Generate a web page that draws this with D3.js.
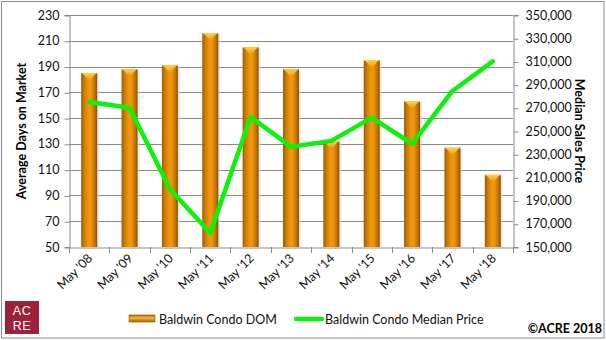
<!DOCTYPE html>
<html><head><meta charset="utf-8">
<script src="https://cdn.jsdelivr.net/npm/d3@7"></script>
<style>
body{margin:0;background:#fff;}
svg{display:block;font-family:Lato,"Open Sans",sans-serif;}
</style></head>
<body><svg id="c" width="606" height="340"></svg>
<script>
const categories = ["May '08","May '09","May '10","May '11","May '12","May '13","May '14","May '15","May '16","May '17","May '18"];
const domValues = [185,188,191,216,205,188,132,195,163,127,106];
const priceValues = [275000,270000,200000,162000,262000,236500,241500,261500,239000,284500,310000];
const leftTicks = [50,70,90,110,130,150,170,190,210,230];
const rightTicks = [150000,170000,190000,210000,230000,250000,270000,290000,310000,330000,350000];
const seriesNames = ["Baldwin Condo DOM","Baldwin Condo Median Price"];

const svg = d3.select("#c");
const m = {l:69, r:513, t:15, b:247};
const x = d3.scaleBand().domain(categories).range([m.l, m.r]);
const yL = d3.scaleLinear().domain([50,230]).range([m.b, m.t]);
const yR = d3.scaleLinear().domain([150000,350000]).range([m.b, m.t]);

const defs = svg.append("defs");
const g = defs.append("linearGradient").attr("id","barg").attr("x1","0").attr("x2","1").attr("y1","0").attr("y2","0");
[[0,"#9a5a00"],[0.18,"#c97b05"],[0.45,"#f0960c"],[0.6,"#f09510"],[0.85,"#c07204"],[1,"#8a5000"]].forEach(s=>g.append("stop").attr("offset",s[0]).attr("stop-color",s[1]));
const gc = defs.append("linearGradient").attr("id","capg").attr("x1","0").attr("x2","0").attr("y1","0").attr("y2","1");
[[0,"#ffd24a"],[1,"#f0a020"]].forEach(s=>gc.append("stop").attr("offset",s[0]).attr("stop-color",s[1]));
const lg = defs.append("linearGradient").attr("id","legg").attr("x1","0").attr("x2","0").attr("y1","0").attr("y2","1");
[[0,"#a86a00"],[0.4,"#f5b830"],[1,"#a86400"]].forEach(s=>lg.append("stop").attr("offset",s[0]).attr("stop-color",s[1]));

// border
svg.append("rect").attr("x",1.5).attr("y",1.5).attr("width",602.5).attr("height",336.5).attr("fill","none").attr("stroke","#8c8c8c").attr("stroke-width",1);

// gridlines
svg.append("g").selectAll("line").data(leftTicks.slice(1)).join("line")
  .attr("x1",m.l).attr("x2",m.r).attr("y1",d=>Math.round(yL(d))+0.5).attr("y2",d=>Math.round(yL(d))+0.5)
  .attr("stroke","#8a8a8a").attr("stroke-width",1);

// axes
const fs = "12.5px";
const la = svg.append("g").attr("transform",`translate(${m.l+0.5},0)`).call(d3.axisLeft(yL).tickValues(leftTicks).tickSize(5).tickPadding(5).tickFormat(d3.format("d")));
const ra = svg.append("g").attr("transform",`translate(${m.r+0.5},0)`).call(d3.axisRight(yR).tickValues(rightTicks).tickSize(5).tickPadding(7).tickFormat(d3.format(",")));
const xa = svg.append("g").attr("transform",`translate(0,${m.b+0.5})`).call(d3.axisBottom(x).tickSize(0).tickFormat(""));
[la,ra,xa].forEach(a=>{a.select(".domain").attr("stroke","#8a8a8a");a.selectAll(".tick line").attr("stroke","#8a8a8a");a.selectAll("text").attr("font-size",fs).attr("fill","#111").attr("font-family","Lato,sans-serif");});
la.selectAll(".tick line").attr("transform","translate(0,0.5)");
ra.selectAll(".tick line").attr("transform","translate(0,0.5)");
// category boundary ticks
const bounds = d3.range(categories.length+1).map(i=>m.l + i*x.bandwidth());
svg.append("g").selectAll("line").data(bounds).join("line")
  .attr("x1",d=>Math.round(d)+0.5).attr("x2",d=>Math.round(d)+0.5).attr("y1",m.b).attr("y2",m.b+6).attr("stroke","#8a8a8a");
// rotated x labels
svg.append("g").selectAll("text").data(categories).join("text")
  .attr("transform",d=>`translate(${x(d)+x.bandwidth()/2+4},${m.b+12}) rotate(-45)`)
  .attr("text-anchor","end").attr("font-size",fs).attr("fill","#111").text(d=>d);

// bars
const bw = 16;
const bars = svg.append("g").selectAll("g").data(categories).join("g");
bars.append("rect").attr("x",d=>x(d)+x.bandwidth()/2-bw/2+2).attr("y",(d,i)=>yL(domValues[i])+1)
  .attr("width",bw).attr("height",(d,i)=>m.b-yL(domValues[i])-1).attr("fill","#d8d8d8").attr("opacity",0.6);
bars.append("rect").attr("x",d=>x(d)+x.bandwidth()/2-bw/2).attr("y",(d,i)=>yL(domValues[i]))
  .attr("width",bw).attr("height",(d,i)=>m.b-yL(domValues[i])).attr("fill","url(#barg)");
bars.append("path").attr("d",(d,i)=>{const cx=x(d)+x.bandwidth()/2, t=yL(domValues[i]);
  return `M${cx-bw/2},${t} L${cx+bw/2},${t} L${cx+bw/2-3},${t+2} L${cx+2},${t+6} L${cx-2},${t+6} L${cx-bw/2+3},${t+2} Z`;})
  .attr("fill","url(#capg)");

// line
svg.append("path").datum(priceValues)
  .attr("d",d3.line().x((d,i)=>x(categories[i])+x.bandwidth()/2).y(d=>yR(d)))
  .attr("fill","none").attr("stroke","#0df20d").attr("stroke-width",4.5).attr("stroke-linejoin","round").attr("stroke-linecap","round");

// axis titles
svg.append("text").attr("transform",`translate(26,${(m.t+m.b)/2}) rotate(-90)`).attr("text-anchor","middle")
  .attr("font-size","12.5px").attr("font-weight","bold").attr("fill","#000").text("Average Days on Market");
svg.append("text").attr("transform",`translate(575,${(m.t+m.b)/2}) rotate(90)`).attr("text-anchor","middle")
  .attr("font-size","12.5px").attr("font-weight","bold").attr("fill","#000").text("Median Sales Price");

// legend
const leg = svg.append("g");
leg.append("rect").attr("x",129).attr("y",315).attr("width",26).attr("height",7).attr("fill","url(#legg)").attr("stroke","#8a5000").attr("stroke-width",0.6);
leg.append("text").attr("x",159).attr("y",323.5).attr("font-size",fs).attr("fill","#111").text(seriesNames[0]);
leg.append("line").attr("x1",296).attr("x2",322).attr("y1",319).attr("y2",319).attr("stroke","#0df20d").attr("stroke-width",4.5).attr("stroke-linecap","round");
leg.append("text").attr("x",325).attr("y",323.5).attr("font-size",fs).attr("fill","#111").text(seriesNames[1]);

// copyright
svg.append("text").attr("x",602).attr("y",333).attr("text-anchor","end").attr("font-size","12.5px").attr("font-weight","bold").attr("fill","#000").text("©ACRE 2018");

// logo
const lgo = svg.append("g");
lgo.append("rect").attr("x",5).attr("y",301).attr("width",34).attr("height",33).attr("fill","#9c2237");
lgo.append("text").attr("x",22).attr("y",315).attr("text-anchor","middle").attr("font-size","12.5px").attr("fill","#fff").attr("font-family","'Liberation Sans',sans-serif").attr("letter-spacing","0.5").text("AC");
lgo.append("text").attr("x",22).attr("y",330).attr("text-anchor","middle").attr("font-size","12.5px").attr("fill","#fff").attr("font-family","'Liberation Sans',sans-serif").attr("letter-spacing","0.5").text("RE");
</script></body></html>
